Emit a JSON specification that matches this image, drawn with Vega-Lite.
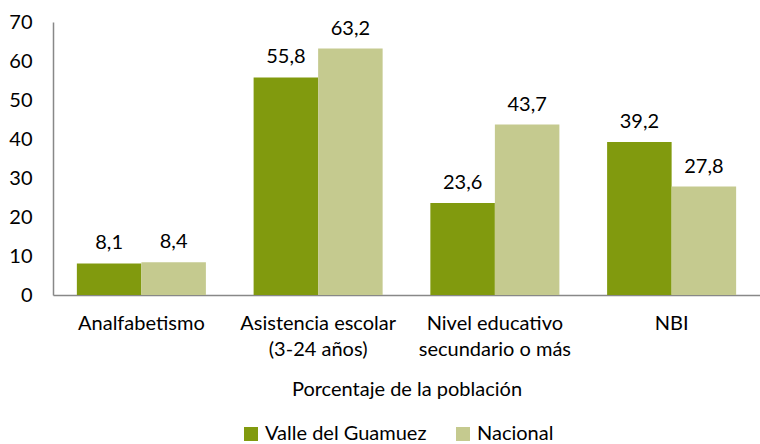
{
  "$schema": "https://vega.github.io/schema/vega-lite/v6.json",
  "width": 707,
  "height": 273,
  "autosize": {"type": "none"},
  "padding": {"left": 53, "top": 22, "right": 0, "bottom": 149},
  "background": "white",
  "config": {
    "view": {"stroke": null},
    "font": "Lato",
    "locale": {"number": {"decimal": ",", "thousands": ".", "grouping": [3], "currency": ["$", ""]}}
  },
  "data": {
    "values": [
      {"cat": "Analfabetismo", "serie": "Valle del Guamuez", "valor": 8.1},
      {"cat": "Analfabetismo", "serie": "Nacional", "valor": 8.4},
      {"cat": "Asistencia escolar|(3-24 años)", "serie": "Valle del Guamuez", "valor": 55.8},
      {"cat": "Asistencia escolar|(3-24 años)", "serie": "Nacional", "valor": 63.2},
      {"cat": "Nivel educativo|secundario o más", "serie": "Valle del Guamuez", "valor": 23.6},
      {"cat": "Nivel educativo|secundario o más", "serie": "Nacional", "valor": 43.7},
      {"cat": "NBI", "serie": "Valle del Guamuez", "valor": 39.2},
      {"cat": "NBI", "serie": "Nacional", "valor": 27.8}
    ]
  },
  "encoding": {
    "x": {
      "field": "cat",
      "type": "nominal",
      "sort": null,
      "scale": {"paddingInner": 0.27, "paddingOuter": 0.135},
      "axis": {
        "title": "Porcentaje de la población",
        "titleFontSize": 20,
        "titleFontWeight": "normal",
        "titleColor": "#000",
        "titlePadding": 20,
        "labelExpr": "split(datum.label, '|')",
        "labelAngle": 0,
        "labelFontSize": 20,
        "labelColor": "#000",
        "labelLineHeight": 26,
        "labelPadding": 18,
        "ticks": false,
        "domainColor": "#888",
        "domainWidth": 1.5
      }
    },
    "xOffset": {"field": "serie", "type": "nominal", "sort": ["Valle del Guamuez", "Nacional"]},
    "y": {
      "field": "valor",
      "type": "quantitative",
      "scale": {"domain": [0, 70]},
      "axis": {
        "title": null,
        "values": [0, 10, 20, 30, 40, 50, 60, 70],
        "grid": false,
        "ticks": false,
        "labelFontSize": 20,
        "labelColor": "#000",
        "labelPadding": 21,
        "domainColor": "#888",
        "domainWidth": 1.5
      }
    }
  },
  "layer": [
    {
      "mark": {"type": "bar"},
      "encoding": {
        "color": {
          "field": "serie",
          "type": "nominal",
          "sort": ["Valle del Guamuez", "Nacional"],
          "scale": {"domain": ["Valle del Guamuez", "Nacional"], "range": ["#819a0e", "#c5ca8f"]},
          "legend": {
            "title": null,
            "orient": "none",
            "legendX": 188,
            "legendY": 402,
            "direction": "horizontal",
            "symbolType": "square",
            "symbolSize": 196,
            "symbolStrokeWidth": 0,
            "labelFontSize": 20,
            "labelColor": "#000",
            "labelLimit": 400,
            "columnPadding": 26,
            "labelOffset": 4
          }
        }
      }
    },
    {
      "mark": {"type": "text", "baseline": "alphabetic", "dy": -14, "fontSize": 20, "color": "#000"},
      "encoding": {
        "text": {"field": "valor", "type": "quantitative", "format": ".1f"},
        "detail": {"field": "serie"}
      }
    }
  ]
}
